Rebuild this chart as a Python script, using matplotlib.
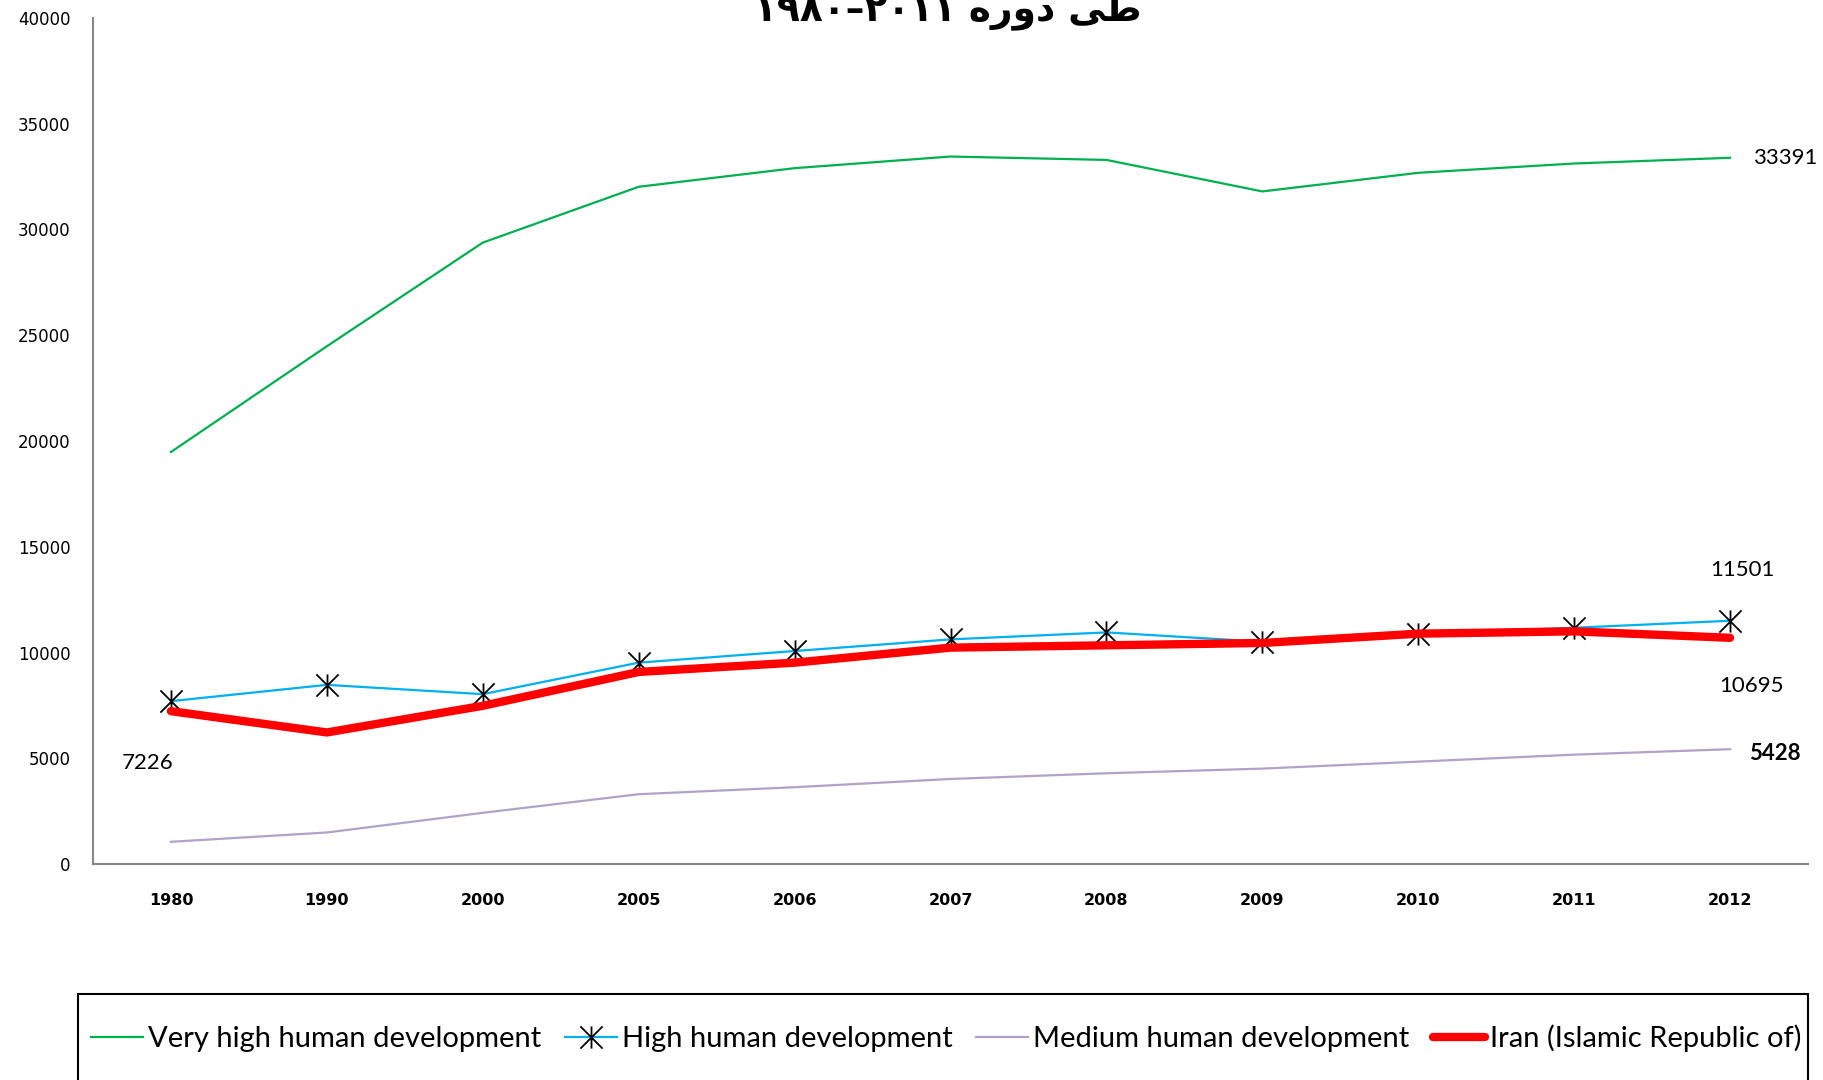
import matplotlib
matplotlib.use("Agg")
import matplotlib.pyplot as plt
from matplotlib.patches import Rectangle
from matplotlib.path import Path

years = ["1980", "1990", "2000", "2005", "2006", "2007", "2008", "2009", "2010", "2011", "2012"]
very_high = [19480, 24480, 29380, 32020, 32900, 33450, 33290, 31800, 32680, 33120, 33391]
high = [7700, 8470, 8030, 9520, 10070, 10620, 10950, 10510, 10890, 11170, 11501]
medium = [1050, 1490, 2420, 3300, 3630, 4020, 4290, 4510, 4840, 5170, 5428]
iran = [7226, 6220, 7480, 9080, 9520, 10230, 10340, 10450, 10890, 11000, 10695]

names = ["Very high human development", "High human development",
         "Medium human development", "Iran (Islamic Republic of)"]
title = "\u06f1\u06f9\u06f8\u06f0\u2013\u06f2\u06f0\u06f1\u06f1 \u0647\u0631\u0648\u062f \ufbfd\ufec3"

# star marker: X with a vertical bar
star = Path([(0, -1), (0, 1), (-1, -1), (1, 1), (-1, 1), (1, -1)],
            [Path.MOVETO, Path.LINETO] * 3)

W, H = 1823, 1080
fig = plt.figure(figsize=(W / 100, H / 100), dpi=100)
ax = fig.add_axes([93 / W, 1 - 864 / H, (1808 - 93) / W, (864 - 18) / H])

x = list(range(len(years)))
ax.plot(x, very_high, color="#00B050", lw=1.6, label=names[0])
ax.plot(x, high, color="#00B0F0", lw=1.6, marker=star, ms=16,
        mec="black", mfc="black", mew=1.3, label=names[1])
ax.plot(x, medium, color="#B3A2C7", lw=1.6, label=names[2])
ax.plot(x, iran, color="#FF0000", lw=6, solid_capstyle="round", label=names[3])

ax.set_xlim(-0.5, len(years) - 0.5)
ax.set_ylim(0, 40000)
ax.set_yticks(range(0, 40001, 5000))
ax.set_xticks(x)
ax.set_xticklabels(years, fontweight="bold", fontsize=11.5)
ax.tick_params(axis="y", length=0, pad=16, labelsize=12)
ax.tick_params(axis="x", length=0, pad=21)
for s in ["top", "right"]:
    ax.spines[s].set_visible(False)
for s in ["left", "bottom"]:
    ax.spines[s].set_color("#888888")
    ax.spines[s].set_linewidth(1.5)

lab = dict(textcoords="offset pixels", fontsize=16, family="Lato")
ax.annotate("33391", (10, very_high[-1]), xytext=(23, 0), ha="left", va="center", **lab)
ax.annotate("11501", (10, high[-1]), xytext=(12, 51), ha="center", va="center", **lab)
ax.annotate("10695", (10, iran[-1]), xytext=(21, -48), ha="center", va="center", **lab)
ax.annotate("5428", (10, medium[-1]), xytext=(19, -4), ha="left", va="center",
            fontweight="bold", **lab)
ax.annotate("7226", (0, iran[0]), xytext=(-23, -52), ha="center", va="center", **lab)

fig.text(948 / W, 1 - 20 / H, title, ha="center", va="baseline", fontsize=27,
         fontweight="bold", family=["DejaVu Sans", "Noto Sans"])

fig.patches.append(Rectangle((78 / W, -0.05), (1808 - 78) / W, 0.05 + 1 - 994 / H,
                             transform=fig.transFigure, fill=False,
                             edgecolor="black", lw=1.5))
fig.legend(loc="center", bbox_to_anchor=(946 / W, 1 - 1038 / H), ncol=4,
           frameon=False, prop={"family": "Lato", "size": 21},
           handlelength=1.8, handletextpad=0.16, columnspacing=0.8)

fig.savefig("out.png", dpi=100, facecolor="white")
